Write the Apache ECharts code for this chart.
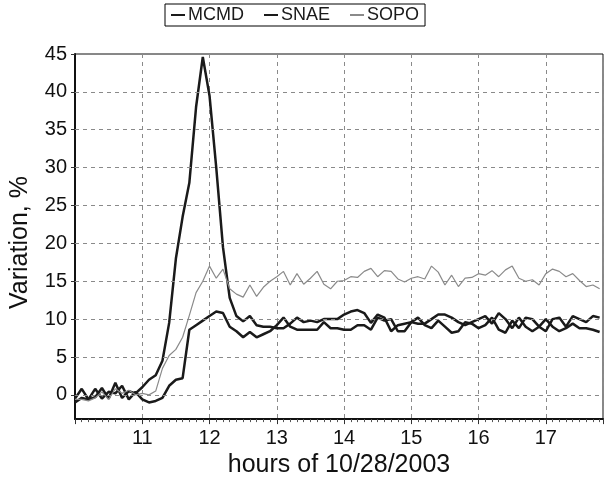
<!DOCTYPE html>
<html>
<head>
<meta charset="utf-8">
<script src="https://cdn.jsdelivr.net/npm/echarts@6/dist/echarts.min.js"></script>
<style>
  html, body { margin: 0; padding: 0; background: #fff; }
  #chart { width: 604px; height: 483px; }
</style>
</head>
<body>
<div id="chart"></div>
<script>
// hours, 6-minute steps
const hours = [
  10.0, 10.1, 10.2, 10.3, 10.4, 10.5, 10.6, 10.7, 10.8, 10.9,
  11.0, 11.1, 11.2, 11.3, 11.4, 11.5, 11.6, 11.7, 11.8, 11.9,
  12.0, 12.1, 12.2, 12.3, 12.4, 12.5, 12.6, 12.7, 12.8, 12.9,
  13.0, 13.1, 13.2, 13.3, 13.4, 13.5, 13.6, 13.7, 13.8, 13.9,
  14.0, 14.1, 14.2, 14.3, 14.4, 14.5, 14.6, 14.7, 14.8, 14.9,
  15.0, 15.1, 15.2, 15.3, 15.4, 15.5, 15.6, 15.7, 15.8, 15.9,
  16.0, 16.1, 16.2, 16.3, 16.4, 16.5, 16.6, 16.7, 16.8, 16.9,
  17.0, 17.1, 17.2, 17.3, 17.4, 17.5, 17.6, 17.7, 17.8
];

const mcmd = [
  -0.5, 0.8, -0.6, -0.3, 0.9, -0.5, 1.6, -0.4, 0.5, 0.2,
  1.0, 2.0, 2.6, 4.5, 9.5, 18.0, 23.5, 28.0, 38.0, 44.6,
  39.5, 30.0, 19.5, 12.8, 10.4, 9.7, 10.4, 9.2, 9.0, 9.0,
  8.8, 8.8, 9.4, 10.2, 9.6, 9.8, 9.6, 10.0, 10.0, 10.0,
  10.6, 11.0, 11.2, 10.8, 9.5, 10.6, 10.2, 8.4, 9.2, 9.4,
  9.6, 9.4, 9.4, 10.0, 10.6, 10.6, 10.2, 9.6, 9.2, 9.6,
  10.0, 10.4, 9.4, 10.8, 10.0, 8.8, 10.2, 9.0, 8.4, 9.0,
  10.0, 9.0, 8.4, 8.8, 9.4, 8.8, 8.8, 8.6, 8.3
];

const snae = [
  -1.0, -0.4, -0.6, 0.8, -0.5, 0.4, 0.2, 1.2, -0.6, 0.4,
  -0.6, -1.0, -0.8, -0.4, 1.2, 2.0, 2.2, 8.6, 9.2, 9.8,
  10.4, 11.0, 10.8, 9.0, 8.4, 7.6, 8.3, 7.6, 8.0, 8.4,
  9.2, 10.2, 9.0, 8.6, 8.6, 8.6, 8.6, 9.6, 8.8, 8.8,
  8.6, 8.6, 9.2, 9.2, 8.6, 10.2, 9.8, 10.0, 8.4, 8.4,
  9.6, 10.2, 9.2, 8.8, 9.8, 9.0, 8.2, 8.4, 9.6, 9.4,
  8.8, 9.2, 10.2, 8.6, 8.2, 9.8, 8.8, 10.2, 10.0, 9.0,
  8.4, 10.0, 10.2, 9.0, 10.4, 10.0, 9.6, 10.4, 10.2
];

const sopo = [
  -0.6, -0.6, -0.8, -0.4, 0.4, -0.6, 0.8, 0.2, 0.6, 0.0,
  0.2, 0.0, 0.5, 3.5, 5.2, 6.0, 7.6, 10.5, 13.5, 15.0,
  17.0, 15.4, 16.6, 14.0, 13.3, 12.9, 14.5, 13.0, 14.2, 15.0,
  15.6, 16.3, 14.5, 16.0, 14.6, 15.4, 16.3, 14.6, 14.0, 15.0,
  15.1, 15.6, 15.5, 16.3, 16.7, 15.6, 16.4, 16.3, 15.3, 14.9,
  15.4, 15.6, 15.3, 17.0, 16.2, 14.5, 15.8, 14.3, 15.4, 15.5,
  16.0, 15.8, 16.4, 15.6, 16.5, 17.0, 15.4, 15.0, 15.2, 14.5,
  16.0, 16.6, 16.3, 15.6, 16.0, 15.1, 14.3, 14.5, 14.0
];

const seriesNames = ['MCMD', 'SNAE', 'SOPO'];
const yTicks = [0, 5, 10, 15, 20, 25, 30, 35, 40, 45];

const pairs = (vals) => hours.map((h, i) => [h, vals[i]]);

const font = 'Liberation Sans, Arial, sans-serif';
const gridDash = { color: '#8a8a8a', type: [4, 4], width: 1 };

let chart = echarts.init(document.getElementById('chart'));

let option = {
    animation: false,
    backgroundColor: '#fff',
    legend: {
        top: 4,
        left: 165,
        data: seriesNames,
        borderColor: '#000',
        borderWidth: 1,
        borderRadius: 0,
        padding: [2, 6, 2, 6],
        itemGap: 20,
        itemWidth: 14,
        itemHeight: 2,
        icon: 'rect',
        textStyle: { fontFamily: font, fontSize: 18, color: '#1a1a1a', padding: [0, 0, 0, -2] }
    },
    grid: {
        left: 74, right: 1, top: 54, bottom: 62,
        show: true,
        borderColor: '#111',
        borderWidth: 1
    },
    xAxis: {
        type: 'value',
        min: 10,
        max: 17.85,
        interval: 1,
        name: 'hours of 10/28/2003',
        nameLocation: 'middle',
        nameGap: 29,
        nameTextStyle: { fontFamily: font, fontSize: 25, color: '#111' },
        axisLine: { show: true, onZero: false, lineStyle: { color: '#111', width: 2 } },
        axisTick: { show: true, length: 5, lineStyle: { color: '#333' } },
        minorTick: { show: true, splitNumber: 10, length: 3, lineStyle: { color: '#555' } },
        axisLabel: {
            showMinLabel: false, showMaxLabel: false, margin: 9,
            fontFamily: font, fontSize: 20, color: '#111'
        },
        splitLine: { show: true, lineStyle: gridDash }
    },
    yAxis: {
        type: 'value',
        min: -3.2,
        max: 45,
        name: 'Variation, %',
        nameLocation: 'middle',
        nameGap: 42,
        nameTextStyle: { fontFamily: font, fontSize: 25, color: '#111', padding: [0, 0, 0, -12] },
        axisLine: { show: true, onZero: false, lineStyle: { color: '#111', width: 2 } },
        axisTick: { show: true, length: 4, customValues: yTicks, lineStyle: { color: '#333' } },
        axisLabel: {
            customValues: yTicks, margin: 8,
            fontFamily: font, fontSize: 20, color: '#111'
        },
        splitLine: { show: false }
    },
    series: [
        {
            name: 'grid', type: 'line', data: [], silent: true,
            markLine: {
                silent: true, symbol: 'none', label: { show: false },
                lineStyle: gridDash,
                data: yTicks.slice(0, -1).map(v => ({ yAxis: v }))
            }
        },
        {
            name: 'MCMD', type: 'line', data: pairs(mcmd), showSymbol: false,
            lineStyle: { color: '#1a1a1a', width: 2.5 }, itemStyle: { color: '#1a1a1a' }
        },
        {
            name: 'SNAE', type: 'line', data: pairs(snae), showSymbol: false,
            lineStyle: { color: '#1a1a1a', width: 2.5 }, itemStyle: { color: '#1a1a1a' }
        },
        {
            name: 'SOPO', type: 'line', data: pairs(sopo), showSymbol: false,
            lineStyle: { color: '#8a8a8a', width: 1.2 }, itemStyle: { color: '#8a8a8a' }
        }
    ]
};

chart.setOption(option);
</script>
</body>
</html>
